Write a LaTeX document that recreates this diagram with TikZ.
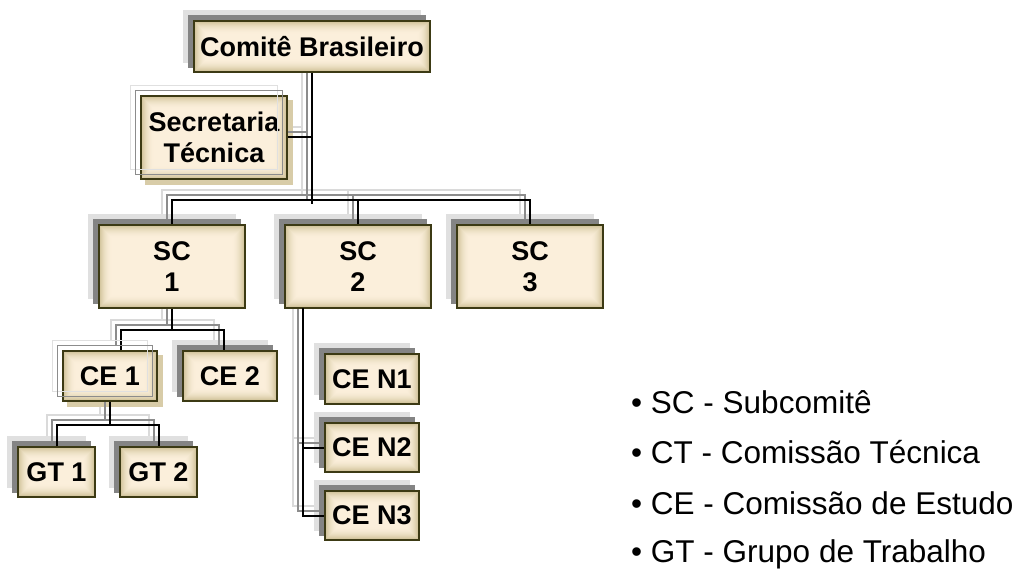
\documentclass[tikz,border=0pt]{standalone}
\usepackage{fontspec}
\setmainfont{Liberation Sans}
\usetikzlibrary{calc}

\definecolor{boxline}{HTML}{3C3A14}
\definecolor{boxin}{HTML}{FBEFDB}
\definecolor{boxout}{HTML}{CFC197}
\definecolor{shadowdark}{HTML}{848484}
\definecolor{shadowlight}{HTML}{E0E0E0}
\definecolor{wiredark}{HTML}{8C8C8C}
\definecolor{wirelight}{HTML}{DADADA}
\definecolor{tanshadow}{HTML}{D8CCA8}

\pgfdeclarelayer{back}
\pgfdeclarelayer{mid}
\pgfdeclarelayer{front}
\pgfsetlayers{back,mid,main,front}

\tikzset{
  % bevelled fill: nested rectangles from the tan rim to the cream centre
  bevelfill/.style={path picture={
    \foreach \i [evaluate=\i as \p using {int(100*(1-(1-\i/13)^2))}] in {0,...,13}{
      \fill[boxin!\p!boxout]
        ([shift={(\i pt,-\i pt)}]path picture bounding box.north west) rectangle
        ([shift={(-\i pt,\i pt)}]path picture bounding box.south east);
    }}},
  orgbox/.style={draw=boxline, line width=1.4pt, fill=boxin, bevelfill, inner sep=0pt,
    align=center, font=\bfseries\fontsize{27}{31.5}\selectfont},
  wire/.style={line width=2pt, draw=black},
  lightcopy/.style={transform canvas={shift={(-10pt,10pt)}}},
  darkcopy/.style={transform canvas={shift={(-5pt,5pt)}}},
  tancopy/.style={transform canvas={shift={(5pt,-5pt)}}},
  legend/.style={anchor=base west, inner sep=0pt, font=\fontsize{31.5}{36}\selectfont},
}

% all connectors of the chart, drawn with the style given as argument
\newcommand\orgwires[1]{%
  \draw[#1] (cb.south) -- (trunkend);
  \draw[#1] (st.east) -- (st.east -| cb.south);
  \draw[#1] (sc1.north) -- (sc1.north |- busy) -- (sc3.north |- busy) -- (sc3.north);
  \draw[#1] (sc2.north) -- (sc2.north |- busy);
  \draw[#1] (sc1.south) -- (cebus);
  \draw[#1] ([xshift=11pt]ce1.north) -- ([xshift=11pt]ce1.north |- cebus)
            -- ([xshift=-6pt]ce2.north |- cebus) -- ([xshift=-6pt]ce2.north);
  \draw[#1] (ce1.south) -- (gtbus);
  \draw[#1] (gt1.north) -- (gt1.north |- gtbus) -- (gt2.north |- gtbus) -- (gt2.north);
  \draw[#1] (cntop) |- (cen3.west);
  \draw[#1] (cen2.west) -- (cen2.west -| cntop);
}

\begin{document}
\begin{tikzpicture}[x=1pt,y=-1pt]
\useasboundingbox (0,0) rectangle (1024,569);

% boxes
\node[orgbox, minimum width=236pt, minimum height=51pt] (cb) at (312,46.5) {Comitê Brasileiro};
\node[orgbox, minimum width=146pt, minimum height=83pt] (st) at (214,137.5) {Secretaria\\Técnica};
\node[orgbox, minimum width=146pt, minimum height=83pt] (sc1) at (172,266.5) {SC\\1};
\node[orgbox, minimum width=146pt, minimum height=83pt] (sc2) at (358,266.5) {SC\\2};
\node[orgbox, minimum width=146pt, minimum height=83pt] (sc3) at (530,266.5) {SC\\3};
\node[orgbox, minimum width=94pt, minimum height=50pt] (ce1) at (110,376) {CE 1};
\node[orgbox, minimum width=94pt, minimum height=50pt] (ce2) at (230,376) {CE 2};
\node[orgbox, minimum width=77pt, minimum height=50pt] (gt1) at (56.5,472) {GT 1};
\node[orgbox, minimum width=77pt, minimum height=50pt] (gt2) at (158.5,472) {GT 2};
\node[orgbox, minimum width=94pt, minimum height=50pt] (cen1) at (372,379) {CE N1};
\node[orgbox, minimum width=94pt, minimum height=49pt] (cen2) at (372,447.5) {CE N2};
\node[orgbox, minimum width=94pt, minimum height=49pt] (cen3) at (372,515.5) {CE N3};

% junction points of the connectors
\coordinate (busy) at (312,200);
\coordinate (trunkend) at (312,204);
\coordinate (cebus) at (172,330);
\coordinate (gtbus) at (110,425);
\coordinate (cntop) at (303,308);

% drop shadows of the filled boxes
\foreach \n in {cb,sc1,sc2,sc3,ce2,gt1,gt2,cen1,cen2,cen3}{
  \begin{pgfonlayer}{back}
    \fill[shadowlight, lightcopy] (\n.south west) rectangle (\n.north east);
  \end{pgfonlayer}
  \begin{pgfonlayer}{mid}
    \fill[shadowdark, darkcopy] (\n.south west) rectangle (\n.north east);
  \end{pgfonlayer}
}

% outlined boxes: tan shadow behind, grey frames in front
\foreach \n in {st,ce1}{
  \begin{pgfonlayer}{mid}
    \fill[tanshadow, tancopy] (\n.south west) rectangle (\n.north east);
  \end{pgfonlayer}
  \begin{pgfonlayer}{front}
    \draw[shadowlight, line width=1.5pt, lightcopy] (\n.south west) rectangle (\n.north east);
    \draw[wiredark, line width=1.5pt, darkcopy] (\n.south west) rectangle (\n.north east);
  \end{pgfonlayer}
}

% connectors with their two shadow copies
\begin{pgfonlayer}{back}
  \orgwires{line width=2pt, draw=wirelight, lightcopy}
\end{pgfonlayer}
\begin{pgfonlayer}{mid}
  \orgwires{line width=2pt, draw=wiredark, darkcopy}
\end{pgfonlayer}
\orgwires{wire}

% legend
\node[legend] (leg1) at (631,413) {• SC - Subcomitê};
\node[legend] (leg2) at (631,463.5) {• CT - Comissão Técnica};
\node[legend] (leg3) at (631,514) {• CE - Comissão de Estudo};
\node[legend] (leg4) at (631,562) {• GT - Grupo de Trabalho};
\end{tikzpicture}
\end{document}
